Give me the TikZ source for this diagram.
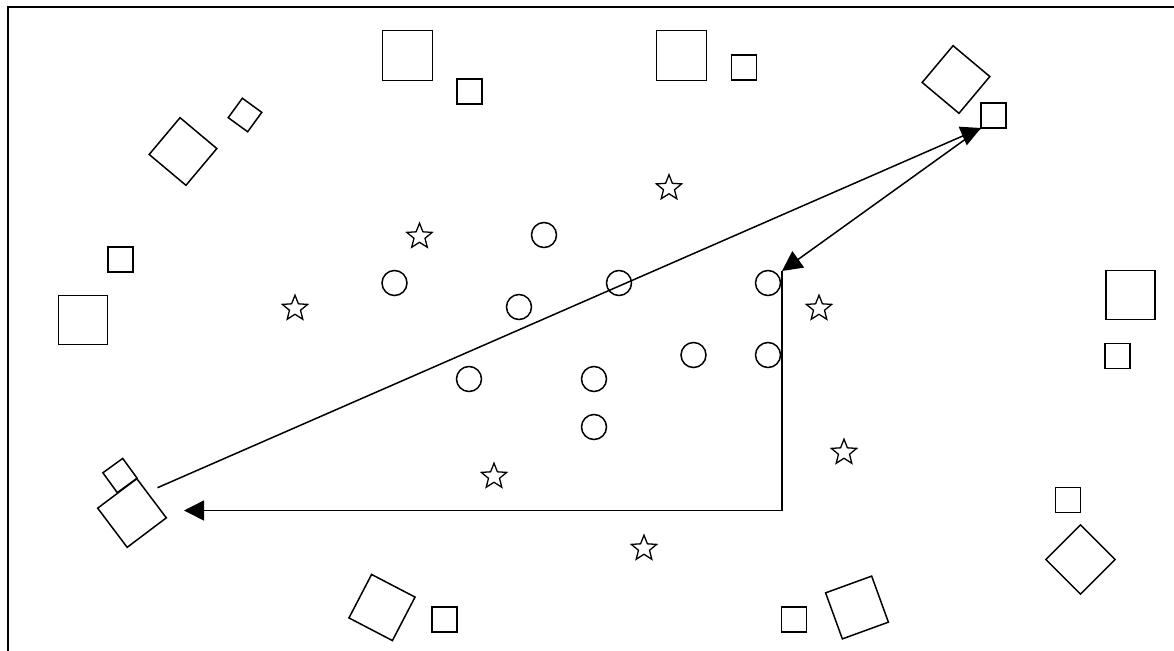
\documentclass[tikz,border=0pt]{standalone}
\usetikzlibrary{arrows.meta,shapes.geometric}
\tikzset{
  shp/.style={draw=black, line width=1.5pt, inner sep=0pt, outer sep=0pt},
  sq/.style={shp, rectangle, minimum size=#1},
  sq/.default=25pt,
  ring/.style={shp, circle, minimum size=25pt},
  starshape/.style={shp, star, star points=5, star point ratio=2.3, minimum size=26.6pt, line width=1.3pt},
  conn/.style={line width=1.5pt, -{Triangle[length=20pt,width=20pt]}},
}
\begin{document}
\begin{tikzpicture}[x=1pt,y=-1pt]
\useasboundingbox (0,0) rectangle (1174,650);
\clip (0,0) rectangle (1174,650);
\fill[white] (0,0) rectangle (1174,650);
% frame
\draw[line width=1.7pt] (8,700) -- (8,7) -- (1200,7);

% axis-aligned squares
\node[sq=50pt] (t1) at (407.5,55.5) {};
\node[sq] (t1s) at (469.5,91.5) {};
\node[sq=50pt] (t2) at (681.5,55.5) {};
\node[sq] (t2s) at (744,67.5) {};
\node[sq] (trs) at (993.5,115.5) {};
\node[sq] (ls) at (120.5,259.5) {};
\node[sq=49pt] (lb) at (83,320) {};
\node[sq=49pt] (rb) at (1130.5,295) {};
\node[sq] (rs) at (1117.5,356) {};
\node[sq] (brs) at (1068,500) {};
\node[sq] (bsl) at (444.5,619.5) {};
\node[sq] (bsr) at (794,619.5) {};

% rotated squares
\node[sq=48pt, rotate=50] (tlb) at (183,151.5) {};
\node[sq=24pt, rotate=54] (tls) at (245,115) {};
\node[sq=48pt, rotate=50] (trd) at (956,79.5) {};
\node[sq=24.5pt, rotate=36] (bls) at (120,475.5) {};
\node[sq=49pt, rotate=37] (blb) at (132,513) {};
\node[sq=49pt, rotate=45] (brd) at (1080.5,559.5) {};
\node[sq=49pt, rotate=-27.5] (btl) at (382,607.5) {};
\node[sq=49pt, rotate=20] (btr) at (857,607.5) {};

% circles
\node[ring] (c1) at (544,235) {};
\node[ring] (c2) at (394.5,283) {};
\node[ring] (c3) at (519,307) {};
\node[ring] (c4) at (619,283) {};
\node[ring] (c5) at (768,283) {};
\node[ring] (c6) at (469,379) {};
\node[ring] (c7) at (594,379) {};
\node[ring] (c8) at (693.5,355) {};
\node[ring] (c9) at (768,355) {};
\node[ring] (c10) at (594,427) {};

% stars
\node[starshape] (s1) at (419.5,236.5) {};
\node[starshape] (s2) at (669,188) {};
\node[starshape] (s3) at (295,308.5) {};
\node[starshape] (s4) at (819,308.5) {};
\node[starshape] (s5) at (844,452.5) {};
\node[starshape] (s6) at (494,476.5) {};
\node[starshape] (s7) at (644,548.5) {};

% connectors
\coordinate (p0) at (157.5,487.7);
\coordinate (p1) at (782,271);
\coordinate (p2) at (184,510.5);
\draw[conn] (p0) -- (trs.south west);
\draw[conn] (trs.south west) -- (p1);
\draw[conn] (p1) |- (p2);
\end{tikzpicture}
\end{document}
